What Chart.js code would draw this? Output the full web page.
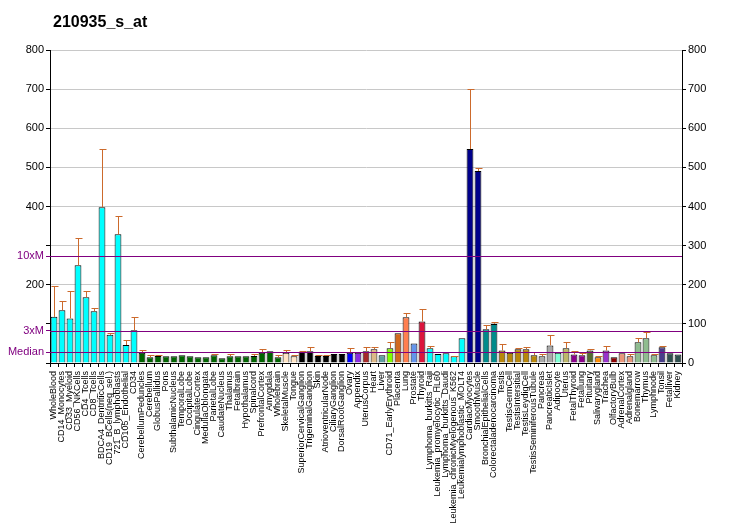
<!DOCTYPE html>
<html>
<head>
<meta charset="utf-8">
<script src="https://cdn.jsdelivr.net/npm/chart.js@4.4.1/dist/chart.umd.min.js"></script>
<style>
	html, body { margin: 0; padding: 0; background: #fff; }
	#wrap { width: 732px; height: 530px; }
</style>
</head>
<body>
<div id="wrap"><canvas id="chart" width="732" height="530"></canvas></div>
<script>
// Probe set name shown top left
const chartTitle = '210935_s_at';

const tissues = [
	'WholeBlood', 'CD14_Monocytes', 'CD33_Myeloid', 'CD56_NKCells', 'CD4_Tcells', 'CD8_Tcells',
	'BDCA4_DentriticCells', 'CD19_BCells(neg_sel.)', '721_B_lymphoblasts', 'CD105_Endothelial', 'CD34',
	'CerebellumPeduncles', 'Cerebellum', 'GlobusPallidus', 'Pons', 'SubthalamicNucleus', 'TemporalLobe',
	'OccipitalLobe', 'CingulateCortex', 'MedullaOblongata', 'ParietalLobe', 'CaudateNucleus', 'Thalamus',
	'Fetalbrain', 'Hypothalamus', 'Spinalcord', 'PrefrontalCortex', 'Amygdala', 'Wholebrain',
	'SkeletalMuscle', 'Tongue', 'SuperiorCervicalGanglion', 'TrigeminalGanglion', 'Skin',
	'AtrioventricularNode', 'CiliaryGanglion', 'DorsalRootGanglion', 'Ovary', 'Appendix', 'UterusCorpus',
	'Heart', 'Liver', 'CD71_EarlyErythroid', 'Placenta', 'Lung', 'Prostate', 'Thyroid',
	'Lymphoma_burkitts_Raji', 'Leukemia_promyelocytic_HL60', 'Lymphoma_burkitts_Daudi',
	'Leukemia_chronicMyelogenous_K562', 'Leukemialymphoblastic_MOLT4', 'CardiacMyocytes', 'SmoothMuscle',
	'BronchialEpithelialCells', 'Colorectaladenocarcinoma', 'Testis', 'TestisGermCell', 'TestisIntersitial',
	'TestisLeydigCell', 'TestisSeminiferousTubule', 'Pancreas', 'PancreaticIslet', 'Adipocyte', 'Uterus',
	'FetalThyroid', 'Fetallung', 'Pituitary', 'Salivarygland', 'Trachea', 'OlfactoryBulb', 'AdrenalCortex',
	'Adrenalgland', 'Bonemarrow', 'Thymus', 'Lymphnode', 'Tonsil', 'Fetalliver', 'Kidney',
];

const expression = [
	118, 135, 114, 250, 168, 132, 398, 72, 329, 46, 84,
	26, 14.5, 18, 17, 17, 20, 17, 14.5, 14.5, 20, 12, 17, 17, 17, 18, 26, 30, 14.5,
	26, 17, 28, 30, 18, 18, 23, 23, 26, 26, 30, 35, 20, 37.5, 76, 117, 50, 106,
	37.5, 23, 25, 17, 63, 547, 491, 86, 100, 32, 26, 35, 35, 20, 17, 45, 26, 37.5,
	22, 20, 32, 14.5, 32, 14.5, 25, 17, 53, 63, 20, 40, 25, 22,
];

// top of the error whisker, null where none is drawn
const errorTop = [
	196, 158, 183, 319, 183, 140, 547, 76, 375, 60, 117,
	32, 20, 20, null, null, null, null, null, null, 23, null, 23, null, null, 23, 35, null, 20,
	32, 20, 30, 40, 20, 20, null, null, 37.5, 27.5, 40, 40, null, 53, null, 127, null, 137,
	43, null, null, 18, null, 700, 498, 97, 104, 48, null, 37.5, 40, 27, 22, 71, null, 53,
	30, 25, 35, 17, 43, null, null, 22, 63, 78, 22, 43, null, null,
];

const barColors = [
	'#00FFFF', '#00FFFF', '#00FFFF', '#00FFFF', '#00FFFF', '#00FFFF', '#00FFFF', '#00FFFF', '#00FFFF', '#00FFFF', '#00FFFF',
	'#006400', '#006400', '#006400', '#006400', '#006400', '#006400', '#006400', '#006400', '#006400',
	'#006400', '#006400', '#006400', '#006400', '#006400', '#006400', '#006400', '#006400', '#006400',
	'#FFE4C4', '#FFE4C4', '#000000', '#000000', '#000000', '#000000', '#000000', '#000000',
	'#0000FF', '#8A2BE2', '#A52A2A', '#DEB887', '#5F9EA0', '#7FFF00', '#D2691E', '#FF7F50', '#6495ED', '#DC143C',
	'#00FFFF', '#00FFFF', '#00FFFF', '#00FFFF', '#00FFFF', '#00008B', '#00008B', '#008B8B', '#008B8B',
	'#B8860B', '#B8860B', '#B8860B', '#B8860B', '#B8860B', '#A9A9A9', '#A9A9A9', '#7FFFD4', '#BDB76B',
	'#8B008B', '#8B008B', '#556B2F', '#FF8C00', '#9932CC', '#8B0000', '#E9967A', '#E9967A',
	'#8FBC8F', '#8FBC8F', '#8FBC8F', '#483D8B', '#2F4F4F', '#2F4F4F',
];

const yMax = 800;
const yTickValues = [0, 100, 200, 300, 400, 500, 600, 700, 800];
// left axis hides these numbers, the marker labels sit there instead
const hiddenLeftLabels = [0, 100, 300];

const refValues = [27.3, 82, 273];
const refLabels = ['Median', '3xM', '10xM'];

const purple = '#800080';
const gridGrey = '#C8C8C8';
const whiskerColor = '#CC6A2C';
const fontFamily = "'Liberation Sans', Arial, sans-serif";

const isRef = (v) => refValues.includes(v);

// Draw the reference lines over the bars, plus the orange whiskers
const overlayPlugin = {
	id: 'overlay',
	afterDatasetsDraw(chart) {
		const {ctx, chartArea, scales} = chart;
		const meta = chart.getDatasetMeta(0);
		ctx.save();
		ctx.lineWidth = 1;
		ctx.strokeStyle = whiskerColor;
		meta.data.forEach((bar, i) => {
			if (errorTop[i] == null) return;
			const x = Math.round(bar.x) + 0.5;
			const yTop = Math.round(scales.y.getPixelForValue(errorTop[i])) + 0.5;
			ctx.beginPath();
			ctx.moveTo(x, bar.y);
			ctx.lineTo(x, yTop);
			ctx.moveTo(x - 3, yTop);
			ctx.lineTo(x + 4, yTop);
			ctx.stroke();
		});
		ctx.strokeStyle = purple;
		refValues.forEach((v) => {
			const y = Math.round(scales.y.getPixelForValue(v)) + 0.5;
			ctx.beginPath();
			ctx.moveTo(chartArea.left, y);
			ctx.lineTo(chartArea.right, y);
			ctx.stroke();
		});
		ctx.restore();
	},
	afterDraw(chart) {
		const {ctx} = chart;
		ctx.save();
		ctx.font = `bold 16px ${fontFamily}`;
		ctx.fillStyle = '#000';
		ctx.textBaseline = 'alphabetic';
		ctx.fillText(chartTitle, 53, 27);
		ctx.restore();
	},
};

const chart = new Chart(document.getElementById('chart'), {
	type: 'bar',
	data: {
		labels: tissues,
		datasets: [
			{
				data: expression,
				backgroundColor: barColors,
				borderColor: '#000',
				borderWidth: 1,
				borderSkipped: 'bottom',
				barPercentage: 0.85,
				categoryPercentage: 1,
				yAxisID: 'y',
			},
		],
	},
	options: {
		responsive: false,
		animation: false,
		devicePixelRatio: 1,
		layout: {padding: {top: 50, left: 0, right: 0, bottom: 0}},
		plugins: {legend: {display: false}, title: {display: false}, tooltip: {enabled: false}},
		scales: {
			x: {
				grid: {drawOnChartArea: false, drawTicks: true, tickLength: 4, tickColor: '#000'},
				border: {color: '#000'},
				ticks: {
					autoSkip: false,
					minRotation: 90,
					maxRotation: 90,
					padding: 4,
					color: '#000',
					font: {family: fontFamily, size: 9},
				},
				afterFit: (s) => { s.height = 167; },
			},
			y: {
				position: 'left',
				min: 0,
				max: yMax,
				afterBuildTicks: (scale) => {
					scale.ticks = yTickValues.concat(refValues).sort((a, b) => a - b).map((v) => ({value: v}));
				},
				ticks: {
					autoSkip: false,
					padding: 2,
					font: {family: fontFamily, size: 11},
					color: (c) => (isRef(c.tick.value) ? purple : '#000'),
					callback: (v) => {
						if (isRef(v)) return refLabels[refValues.indexOf(v)];
						return hiddenLeftLabels.includes(v) ? '' : String(v);
					},
				},
				grid: {
					color: (c) => (isRef(c.tick.value) || c.tick.value === 0 ? 'rgba(0,0,0,0)' : gridGrey),
					tickColor: (c) => (isRef(c.tick.value) ? purple : '#000'),
					tickLength: 4,
				},
				border: {color: '#000'},
				afterFit: (s) => { s.width = 50; },
			},
			y2: {
				position: 'right',
				min: 0,
				max: yMax,
				afterBuildTicks: (scale) => {
					scale.ticks = yTickValues.map((v) => ({value: v}));
				},
				ticks: {autoSkip: false, padding: 2, color: '#000', font: {family: fontFamily, size: 11}},
				grid: {drawOnChartArea: false, tickLength: 4, tickColor: '#000'},
				border: {color: '#000'},
				afterFit: (s) => { s.width = 50; },
			},
		},
	},
	plugins: [overlayPlugin],
});
</script>
</body>
</html>
